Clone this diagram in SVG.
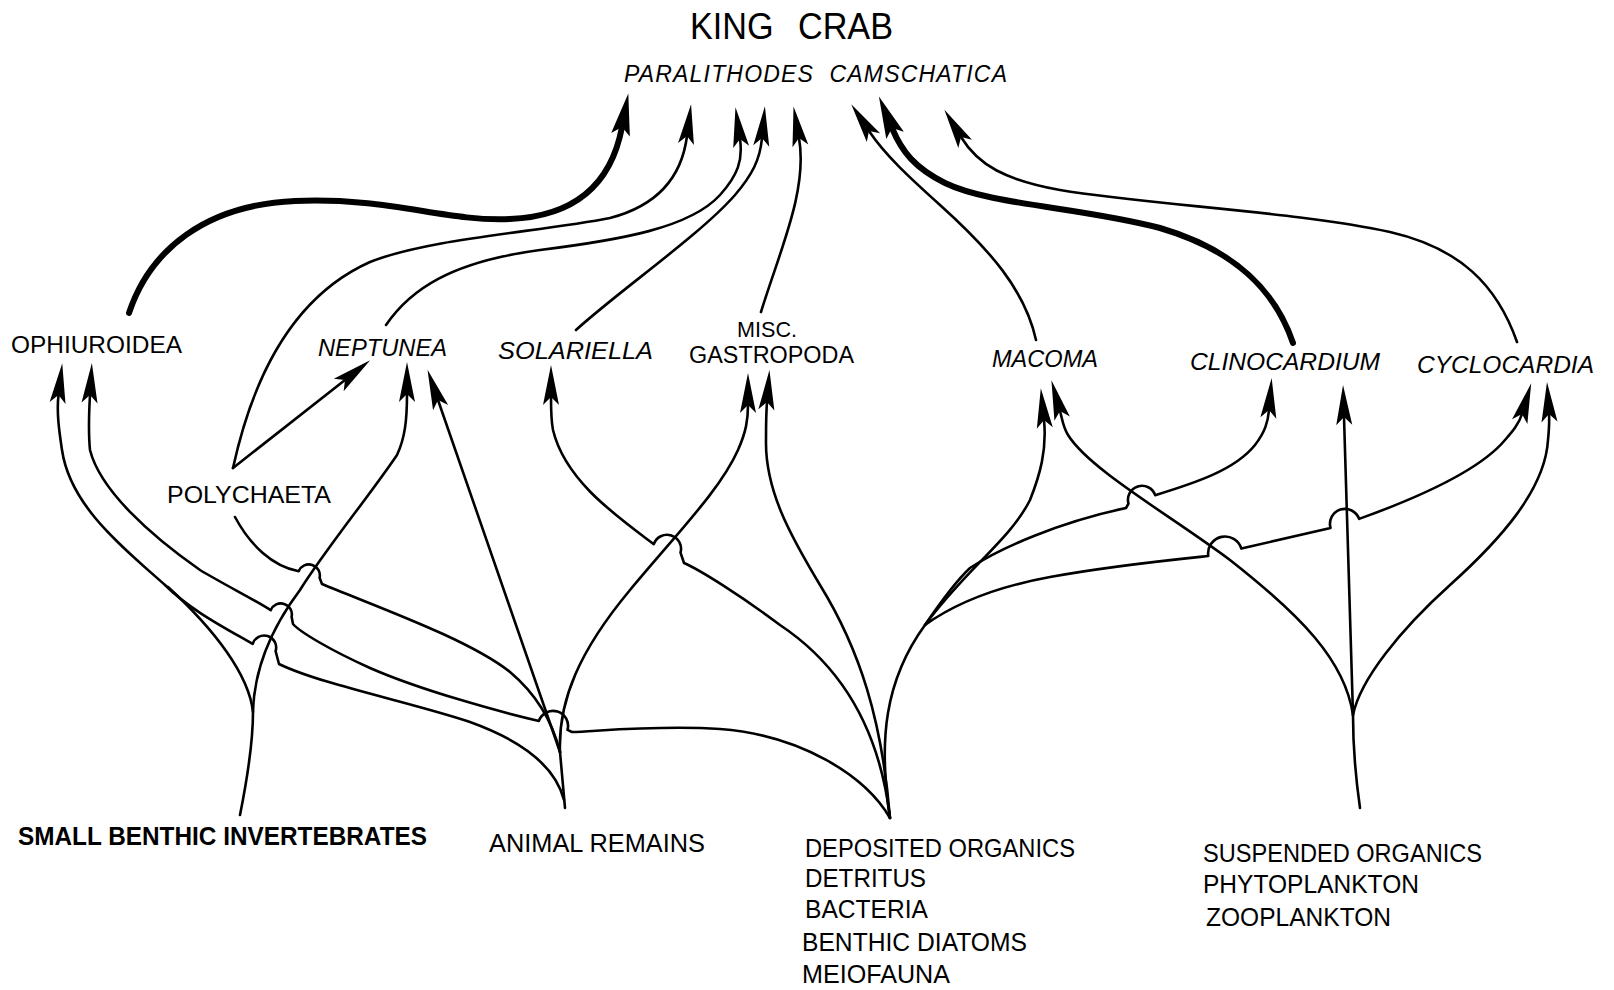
<svg xmlns="http://www.w3.org/2000/svg" width="1614" height="990" viewBox="0 0 1614 990">
<defs>
<style>
.t{font-family:"Liberation Sans",Arial,Helvetica,sans-serif;fill:#000}
.n{font-size:24px}
.s{font-size:25px}
.i{font-style:italic}
.b{font-weight:bold}
.c{fill:none;stroke:#000;stroke-width:2.6;stroke-linecap:round;stroke-linejoin:round}
.k{stroke-width:6}
.a{marker-end:url(#ah)}
.ak{marker-end:url(#ahk)}
</style>
<!-- long narrow arrowheads; the path ends at the notch, the tip lies ahead of it -->
<marker id="ah" markerUnits="userSpaceOnUse" orient="auto" refX="0" refY="0" markerWidth="60" markerHeight="30" overflow="visible">
<path d="M32,0 L-8,-8 L0,0 L-8,8 Z" fill="#000"/>
</marker>
<marker id="ahk" markerUnits="userSpaceOnUse" orient="auto" refX="0" refY="0" markerWidth="60" markerHeight="30" overflow="visible">
<path d="M34,0 L-8,-9.5 L0,0 L-8,9.5 Z" fill="#000"/>
</marker>
</defs>
<rect width="1614" height="990" fill="#fff"/>

<g id="connectors">
<!-- feeding links to king crab -->
<path class="c k ak" d="M129,313 C150,250 205,205 295,201 C390,197 445,222 510,219 C580,216 612,180 622,127"/>
<path class="c a" d="M233,468 C250,390 285,300 370,262 C430,238 540,232 610,218 C660,205 682,175 687,136"/>
<path class="c a" d="M386,325 C410,290 450,262 540,250 C620,240 690,228 720,195 C738,175 743,160 740,139"/>
<path class="c a" d="M576,330 C620,290 700,235 735,195 C752,175 760,160 762,138"/>
<path class="c a" d="M761,312 C780,250 808,190 799,138"/>
<path class="c a" d="M1036,340 C1025,290 990,250 940,205 C910,178 885,155 869,131"/>
<path class="c k ak" d="M1293,343 C1275,290 1235,250 1160,228 C1080,207 990,205 945,183 C915,168 902,152 892,128"/>
<path class="c a" d="M1517,342 C1497,285 1460,248 1390,232 C1300,212 1150,205 1060,190 C1005,180 978,165 961,137"/>

<!-- small benthic invertebrates -->
<path class="c" d="M240,815 C246,785 253,740 253,712 C249,675 215,630 168,587"/>
<path class="c a" d="M253,712 C254,670 270,630 300,590 C325,550 370,495 397,455 C405,438 407,420 407,394"/>

<!-- animal remains -->
<path class="c" d="M560,752 L565,808"/>
<path class="c a" d="M564,800 C555,765 520,740 470,722 C410,702 320,684 279,664 L275.6,651.1 A12 12 0 0 0 252.7,643.9 C225,628 190,610 165,585 C120,545 70,505 62,450 C59,430 56.5,412 58.5,395"/>
<path class="c" d="M235,517 C250,545 272,566 298.7,571.2 A11 11 0 0 1 319.6,577.8 L322,584 C380,608 470,640 510,672 C535,693 552,720 560,752"/>
<path class="c a" d="M560,752 L438,400"/>
<path class="c a" d="M560,752 C558,700 580,650 630,590 C680,530 720,490 738,450 C746,432 748,420 748,405"/>

<!-- polychaeta to neptunea -->
<path class="c a" d="M233,468 L345,380"/>

<!-- deposited organics -->
<path class="c a" d="M890,818 C865,775 800,735 720,729 C660,725 600,731 572,732 L567.5,729.9 A15 15 0 0 0 538.9,720.9 C500,712 420,690 370,668 C330,650 300,632 293,624 L291.6,616.8 A11 11 0 0 0 270.7,610.2 C255,600 225,585 200,570 C150,535 100,490 90,450 C88,430 89,412 90,395"/>
<path class="c a" d="M890,818 C882,750 855,675 780,625 C740,595 700,570 684,563 L680.5,552.6 A14 14 0 0 0 653.8,544.2 C615,515 565,480 553,430 C551,420 551,410 551,397"/>
<path class="c a" d="M890,818 C882,720 860,650 820,585 C790,535 765,490 766,440 C766,425 766,415 767,402"/>
<path class="c a" d="M890,818 C878,740 885,680 925,625 C965,570 1010,540 1030,500 C1040,475 1047,450 1044,420"/>
<path class="c a" d="M925,625 C940,603 955,582 970,568 C1000,548 1060,522 1126,508 L1128.5,503.6 A14 14 0 0 1 1155.2,495.2 C1195,483 1235,470 1255,445 C1265,432 1268,422 1269,410"/>
<path class="c a" d="M925,625 C950,607 990,588 1050,577 C1110,566 1170,560 1208.3,556 A17 17 0 0 1 1241.4,548.6 L1330.5,527.9 A15 15 0 0 1 1359.1,518.9 C1420,497 1480,470 1505,440 C1512,432 1519,424 1522,414"/>

<!-- suspended organics -->
<path class="c a" d="M1360,808 C1356,780 1353,740 1353,715 C1345,660 1300,615 1230,560 C1170,515 1090,470 1068,435 C1063,427 1062.5,420 1060,411"/>
<path class="c a" d="M1353,715 L1344,417"/>
<path class="c a" d="M1353,715 C1360,680 1400,630 1450,585 C1500,540 1545,490 1548,440 C1549,430 1549.5,422 1549,414"/>
</g>

<g id="king-crab">
<text class="t" x="690" y="39" font-size="37" word-spacing="16" textLength="203" lengthAdjust="spacingAndGlyphs">KING CRAB</text>
<text class="t i" x="624" y="82" font-size="23" word-spacing="8" textLength="383" lengthAdjust="spacing">PARALITHODES CAMSCHATICA</text>
</g>
<g id="ophiuroidea"><text class="t n" x="11" y="353" textLength="171" lengthAdjust="spacingAndGlyphs">OPHIUROIDEA</text></g>
<g id="neptunea"><text class="t n i" x="318" y="356" textLength="129" lengthAdjust="spacingAndGlyphs">NEPTUNEA</text></g>
<g id="solariella"><text class="t n i" x="498" y="359" textLength="155" lengthAdjust="spacingAndGlyphs">SOLARIELLA</text></g>
<g id="misc-gastropoda">
<text class="t" x="737" y="337" font-size="22" textLength="60" lengthAdjust="spacingAndGlyphs">MISC.</text>
<text class="t" x="689" y="363" font-size="23" textLength="165" lengthAdjust="spacingAndGlyphs">GASTROPODA</text>
</g>
<g id="macoma"><text class="t n i" x="992" y="367" textLength="106" lengthAdjust="spacingAndGlyphs">MACOMA</text></g>
<g id="clinocardium"><text class="t n i" x="1190" y="370" textLength="190" lengthAdjust="spacingAndGlyphs">CLINOCARDIUM</text></g>
<g id="cyclocardia"><text class="t n i" x="1417" y="373" textLength="177" lengthAdjust="spacingAndGlyphs">CYCLOCARDIA</text></g>
<g id="polychaeta"><text class="t n" x="167" y="503" textLength="164" lengthAdjust="spacingAndGlyphs">POLYCHAETA</text></g>
<g id="small-benthic-invertebrates"><text class="t s b" x="18" y="845" textLength="409" lengthAdjust="spacingAndGlyphs">SMALL BENTHIC INVERTEBRATES</text></g>
<g id="animal-remains"><text class="t s" x="489" y="852" textLength="216" lengthAdjust="spacingAndGlyphs">ANIMAL REMAINS</text></g>
<g id="deposited-organics">
<text class="t s" x="805" y="857" textLength="270" lengthAdjust="spacingAndGlyphs">DEPOSITED ORGANICS</text>
<text class="t s" x="805" y="887" textLength="121" lengthAdjust="spacingAndGlyphs">DETRITUS</text>
<text class="t s" x="805" y="918" textLength="123" lengthAdjust="spacingAndGlyphs">BACTERIA</text>
<text class="t s" x="802" y="951" textLength="225" lengthAdjust="spacingAndGlyphs">BENTHIC DIATOMS</text>
<text class="t s" x="802" y="983" textLength="148" lengthAdjust="spacingAndGlyphs">MEIOFAUNA</text>
</g>
<g id="suspended-organics">
<text class="t s" x="1203" y="862" textLength="279" lengthAdjust="spacingAndGlyphs">SUSPENDED ORGANICS</text>
<text class="t s" x="1203" y="893" textLength="216" lengthAdjust="spacingAndGlyphs">PHYTOPLANKTON</text>
<text class="t s" x="1206" y="926" textLength="185" lengthAdjust="spacingAndGlyphs">ZOOPLANKTON</text>
</g>
</svg>
